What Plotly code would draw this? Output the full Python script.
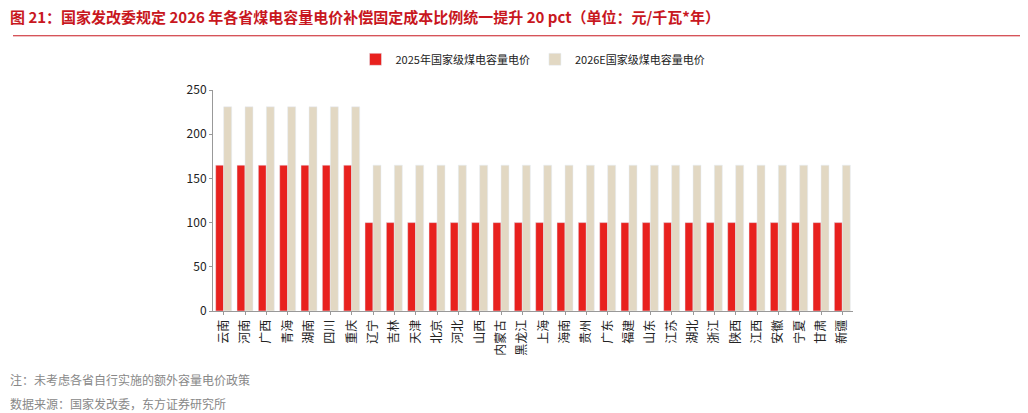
import plotly.graph_objects as go

provinces = ["云南","河南","广西","青海","湖南","四川","重庆","辽宁","吉林","天津","北京","河北","山西","内蒙古","黑龙江","上海","海南","贵州","广东","福建","山东","江苏","湖北","浙江","陕西","江西","安徽","宁夏","甘肃","新疆"]
price_2025 = [165]*7 + [100]*23
price_2026 = [231]*7 + [165]*23

font = "Noto Sans CJK SC"
fig = go.Figure()
fig.add_bar(x=provinces, y=price_2025, name="2025年国家级煤电容量电价", marker_color="#E8211E")
fig.add_bar(x=provinces, y=price_2026, name="2026E国家级煤电容量电价", marker_color="#E2D8C3")
fig.update_layout(
    width=1028, height=413, barmode="group", bargap=0.25, bargroupgap=0.0,
    plot_bgcolor="white", paper_bgcolor="white",
    font=dict(family=font, size=12, color="#222"),
    margin=dict(l=205, r=183, t=82, b=110, autoexpand=False),
    legend=dict(orientation="h", x=0.5, xanchor="center", y=1+(90-60)/216, yanchor="middle", font=dict(size=11), itemwidth=30),
    xaxis=dict(tickangle=-90, showline=True, linecolor="#999", ticks="outside", ticklen=3, tickcolor="#999", tickfont=dict(size=12)),
    yaxis=dict(range=[0,250], dtick=50, showgrid=False, showline=True, linecolor="#999", ticks="outside", ticklen=3, tickcolor="#999", tickfont=dict(size=12)),
    showlegend=True,
)
fig.add_annotation(text="<b>图 21：国家发改委规定 2026 年各省煤电容量电价补偿固定成本比例统一提升 20 pct（单位：元/千瓦*年）</b>",
                   xref="paper", yref="paper", x=-205/640, y=1+(90-18)/216, xanchor="left", yanchor="middle",
                   showarrow=False, font=dict(size=15, color="#C8171E", family=font))
fig.add_shape(type="line", xref="paper", yref="paper", x0=-200/640, x1=1+175/640, y0=1+(90-37)/216, y1=1+(90-37)/216,
              line=dict(color="#C8171E", width=1))
fig.add_annotation(text="注：未考虑各省自行实施的额外容量电价政策", xref="paper", yref="paper", x=-205/640, y=-(373-306)/216,
                   xanchor="left", yanchor="middle", showarrow=False, font=dict(size=12, color="#888"))
fig.add_annotation(text="数据来源：国家发改委，东方证券研究所", xref="paper", yref="paper", x=-205/640, y=-(396-306)/216,
                   xanchor="left", yanchor="middle", showarrow=False, font=dict(size=12, color="#888"))
fig.write_html("out.html")
